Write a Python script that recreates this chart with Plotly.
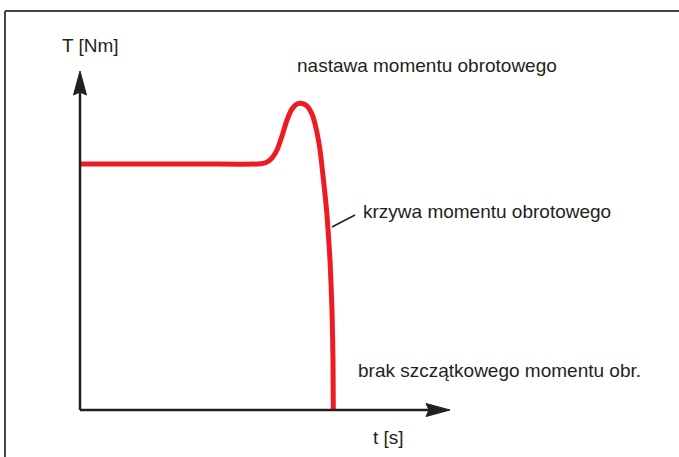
import plotly.graph_objects as go

# Torque curve of the drive (time in arbitrary units, torque in arbitrary units)
t_values = [0, 12, 17.8, 18.6, 19.2, 19.7, 20.2, 20.7, 21.2, 21.7, 22.2, 22.7,
            23.2, 23.6, 24.0, 24.4, 24.7, 25.0, 25.2, 25.3, 25.33]
torque_values = [24.6, 24.6, 24.6, 24.75, 25.2, 26.0, 27.4, 29.0, 30.1, 30.6, 30.65, 30.4,
                 29.6, 28.2, 26.0, 22.5, 19.5, 15.0, 10.0, 5.0, 0.0]

# Axis extents (data units) and labels
t_axis_end = 37.0
torque_axis_end = 33.9
axis_label_t = "t [s]"
axis_label_torque = "T [Nm]"
label_setpoint = "nastawa momentu obrotowego"
label_curve = "krzywa momentu obrotowego"
label_residual = "brak szczątkowego momentu obr."

W, H = 679, 457
SCALE = 10.0          # pixels per data unit
X0, Y0 = 80.0, 410.0  # pixel position of the origin

x_range = [(0 - X0) / SCALE, (W - X0) / SCALE]
y_range = [(Y0 - H) / SCALE, (Y0 - 0) / SCALE]

INK = "#231f20"
RED = "#ed1c24"
FONT = "Liberation Sans, Arial, sans-serif"

fig = go.Figure()
fig.add_trace(go.Scatter(
    x=t_values, y=torque_values, mode="lines",
    line=dict(color=RED, width=5, shape="spline", smoothing=0.6),
    hoverinfo="skip", showlegend=False,
))

shapes = []
# axes
shapes.append(dict(type="line", x0=0, y0=0, x1=0, y1=torque_axis_end - 2.0,
                   line=dict(color=INK, width=2.5)))
shapes.append(dict(type="line", x0=0, y0=0, x1=t_axis_end - 2.0, y1=0,
                   line=dict(color=INK, width=2.5)))
# arrow heads
ah_len, ah_half, ah_notch = 2.4, 0.65, 0.3
ty = torque_axis_end
shapes.append(dict(
    type="path",
    path=(f"M 0 {ty} L {-ah_half} {ty - ah_len} L 0 {ty - ah_len + ah_notch} "
          f"L {ah_half} {ty - ah_len} Z"),
    fillcolor=INK, line=dict(color=INK, width=1)))
tx = t_axis_end
shapes.append(dict(
    type="path",
    path=(f"M {tx} 0 L {tx - ah_len} {ah_half} L {tx - ah_len + ah_notch} 0 "
          f"L {tx - ah_len} {-ah_half} Z"),
    fillcolor=INK, line=dict(color=INK, width=1)))
# leader line for the curve label
shapes.append(dict(type="line", x0=25.2, y0=18.3, x1=27.5, y1=19.5,
                   line=dict(color=INK, width=1.5)))
# outer frame
shapes.append(dict(type="line", xref="paper", yref="paper",
                   x0=5 / W, y0=1 - 11 / H, x1=1, y1=1 - 11 / H,
                   line=dict(color="#444444", width=2)))
shapes.append(dict(type="line", xref="paper", yref="paper",
                   x0=5 / W, y0=1 - 11 / H, x1=5 / W, y1=0,
                   line=dict(color="#444444", width=2)))

def label(text, x, y):
    return dict(text=text, x=x, y=y, xref="x", yref="y", xanchor="left",
                yanchor="middle", showarrow=False,
                font=dict(family=FONT, size=19, color=INK))

annotations = [
    label(axis_label_torque, -2.05, 36.5),
    label(label_setpoint, 21.5, 34.5),
    label(label_curve, 28.1, 19.9),
    label(label_residual, 27.6, 4.0),
    label(axis_label_t, 29.1, -2.7),
]

fig.update_layout(
    width=W, height=H,
    margin=dict(l=0, r=0, t=0, b=0),
    paper_bgcolor="white", plot_bgcolor="white",
    xaxis=dict(range=x_range, visible=False, fixedrange=True),
    yaxis=dict(range=y_range, visible=False, fixedrange=True),
    shapes=shapes, annotations=annotations,
    showlegend=False,
)

fig.write_html("out.html")
